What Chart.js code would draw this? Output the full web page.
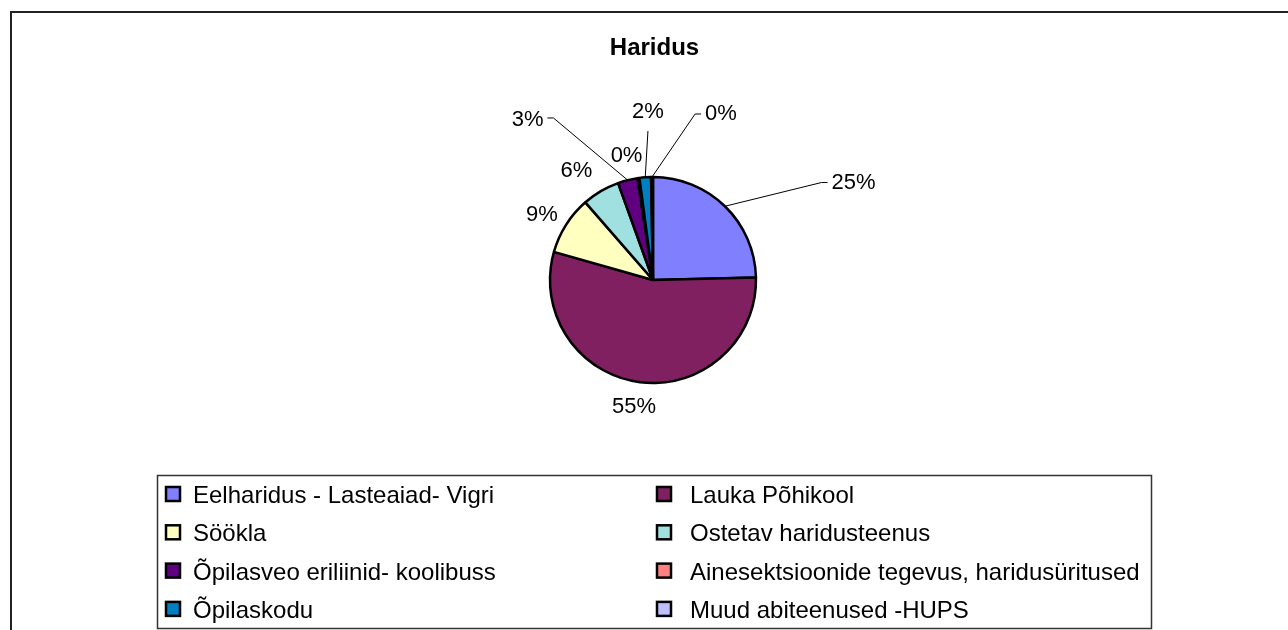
<!DOCTYPE html>
<html>
<head>
    <meta charset="UTF-8">
    <title>Haridus</title>
    <style>
        html, body { margin: 0; padding: 0; background: #ffffff; }
        canvas { display: block; }
    </style>
    <script src="https://cdn.jsdelivr.net/npm/chart.js@4.4.0/dist/chart.umd.min.js"></script>
</head>
<body>
<canvas id="pie-chart" width="1288" height="630"></canvas>
<script>
    // chart data
    var title = 'Haridus';
    var categories = [
        'Eelharidus - Lasteaiad- Vigri',
        'Lauka Põhikool',
        'Söökla',
        'Ostetav haridusteenus',
        'Õpilasveo eriliinid- koolibuss',
        'Ainesektsioonide tegevus, haridusüritused',
        'Õpilaskodu',
        'Muud abiteenused -HUPS'
    ];
    var shares = [24.6, 54.8, 9.2, 5.9, 3.1, 0.3, 1.8, 0.3];
    var colors = ['#8080ff', '#802060', '#ffffc0', '#a0e0e0', '#600080', '#ff8080', '#0080c0', '#c0c0ff'];

    var FONT = '"Liberation Sans", Arial, sans-serif';

    // where each percent label sits, relative to pie centre in radius units (Excel moved some of them)
    // lead: side of the text the leader line leaves from
    var labelSpots = [
        {dx: 1.947, dy: -0.966, lead: 'left'},
        {dx: -0.184, dy: 1.214},
        {dx: -1.078, dy: -0.646},
        {dx: -0.743, dy: -1.073},
        {dx: -1.218, dy: -1.573, lead: 'right'},
        {dx: -0.257, dy: -1.223},
        {dx: -0.049, dy: -1.650, lead: 'bottom'},
        {dx: 0.660, dy: -1.631, lead: 'left'}
    ];

    var excelLook = {
        id: 'excelLook',
        beforeDraw: function(chart) {
            var ctx = chart.ctx;
            ctx.save();
            ctx.fillStyle = '#ffffff';
            ctx.fillRect(0, 0, chart.width, chart.height);
            // outer frame, runs off the right and bottom edge
            ctx.strokeStyle = '#222222';
            ctx.lineWidth = 2;
            ctx.strokeRect(11, 12, chart.width + 20, chart.height + 20);
            // title
            ctx.fillStyle = '#000000';
            ctx.font = 'bold 24px ' + FONT;
            ctx.textAlign = 'center';
            ctx.fillText(title, 654.5, 55);
            ctx.restore();
        },
        afterDatasetsDraw: function(chart) {
            var ctx = chart.ctx;
            var meta = chart.getDatasetMeta(0);
            var data = chart.data.datasets[0].data;
            var total = data.reduce(function(a, b) { return a + b; }, 0);
            ctx.save();
            ctx.font = '22px ' + FONT;
            ctx.fillStyle = '#000000';
            ctx.strokeStyle = '#000000';
            ctx.lineWidth = 1;
            ctx.textAlign = 'center';
            for (var i = 0; i < meta.data.length; i++) {
                var arc = meta.data[i];
                var p = arc.getProps(['x', 'y', 'startAngle', 'endAngle', 'outerRadius'], true);
                var r = p.outerRadius;
                var spot = labelSpots[i];
                var tx = p.x + spot.dx * r;
                var ty = p.y + spot.dy * r;
                var text = Math.round(data[i] / total * 100) + '%';
                var w = ctx.measureText(text).width;
                ctx.fillText(text, tx, ty + 8);

                if (spot.lead) {
                    var mid = (p.startAngle + p.endAngle) / 2;
                    var ax = p.x + Math.cos(mid) * r;
                    var ay = p.y + Math.sin(mid) * r;
                    ctx.beginPath();
                    if (spot.lead === 'left') {
                        ctx.moveTo(tx - w / 2 - 4, ty + 2);
                        ctx.lineTo(tx - w / 2 - 10, ty + 2);
                    } else if (spot.lead === 'right') {
                        ctx.moveTo(tx + w / 2 + 4, ty);
                        ctx.lineTo(tx + w / 2 + 10, ty);
                    } else {
                        ctx.moveTo(tx, ty + 21);
                    }
                    ctx.lineTo(ax, ay);
                    ctx.stroke();
                }
            }
            ctx.restore();
        },
        afterDraw: function(chart) {
            // legend box, two columns, row by row
            var ctx = chart.ctx;
            var ds = chart.data.datasets[0];
            ctx.save();
            ctx.strokeStyle = '#333333';
            ctx.lineWidth = 1.5;
            ctx.strokeRect(157.5, 475.5, 994, 153);
            ctx.font = '24px ' + FONT;
            ctx.textAlign = 'left';
            for (var i = 0; i < chart.data.labels.length; i++) {
                var col = i % 2;
                var row = Math.floor(i / 2);
                var mx = col === 0 ? 166 : 657;
                var cy = 494 + row * 38.3;
                ctx.fillStyle = ds.backgroundColor[i];
                ctx.fillRect(mx, cy - 7, 14, 14);
                ctx.strokeStyle = '#000000';
                ctx.lineWidth = 2.5;
                ctx.strokeRect(mx, cy - 7, 14, 14);
                ctx.fillStyle = '#000000';
                ctx.fillText(chart.data.labels[i], col === 0 ? 193 : 690, cy + 9);
            }
            ctx.restore();
        }
    };

    var chart = new Chart(document.getElementById('pie-chart').getContext('2d'), {
        type: 'pie',
        data: {
            labels: categories,
            datasets: [{
                data: shares,
                backgroundColor: colors,
                borderColor: '#000000',
                borderWidth: 2.5
            }]
        },
        options: {
            responsive: false,
            animation: false,
            events: [],
            radius: 103,
            layout: {
                padding: {left: 420, right: 402, top: 150, bottom: 220}
            },
            plugins: {
                legend: {display: false},
                title: {display: false},
                tooltip: {enabled: false}
            }
        },
        plugins: [excelLook]
    });
</script>
</body>
</html>
